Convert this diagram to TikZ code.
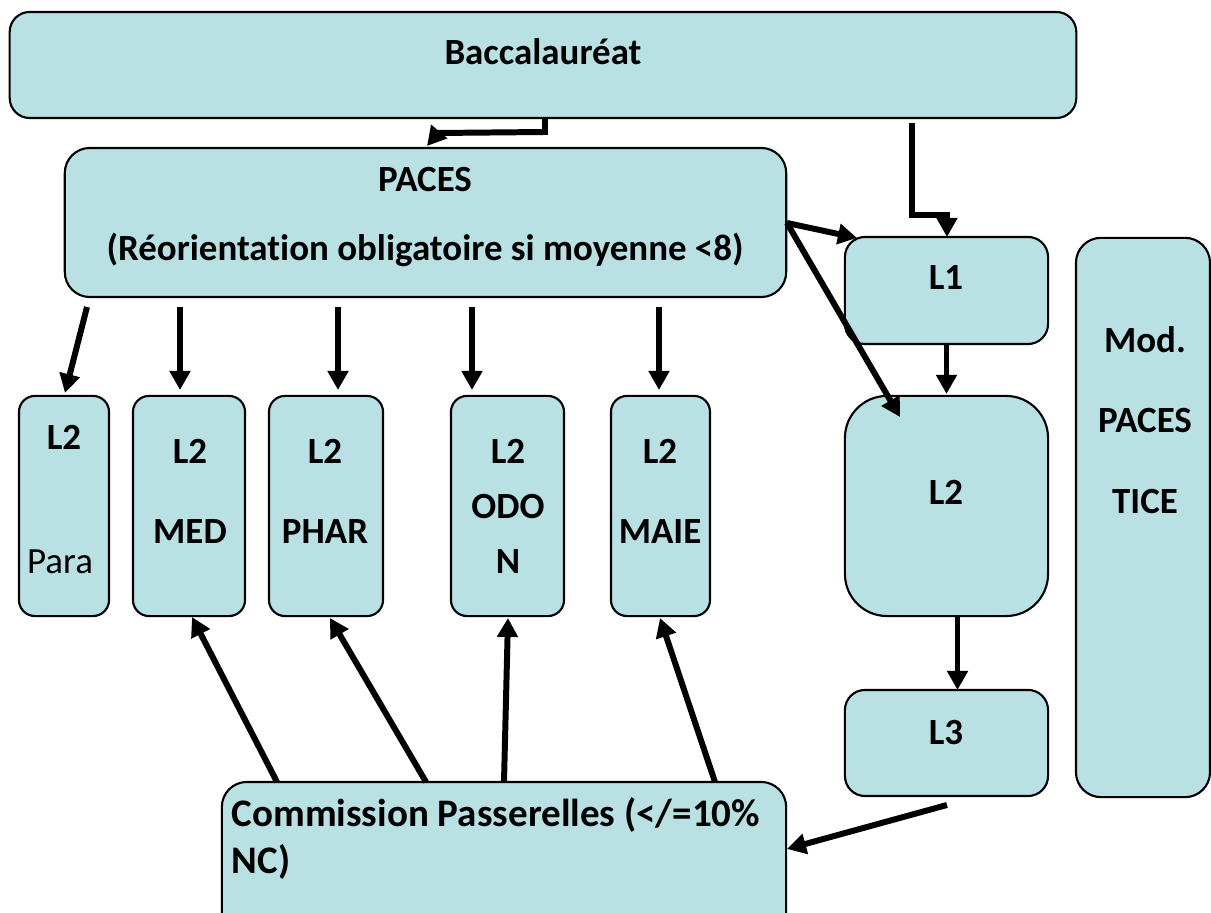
\documentclass[tikz,border=0pt]{standalone}
\usepackage{fontspec}
\setmainfont{Carlito}[Ligatures={NoCommon}]
\usetikzlibrary{arrows.meta}
\definecolor{boxfill}{RGB}{185,224,227}
\begin{document}
\begin{tikzpicture}[x=0.01cm,y=-0.01cm,
  box/.style={draw=black, line width=0.6pt, fill=boxfill, rounded corners=#1, inner sep=0pt, outer sep=0pt},
  box/.default=0.18cm,
  lbl/.style={font=\fontsize{10.5}{12}\selectfont\bfseries, inner sep=0pt},
  biglbl/.style={font=\fontsize{11.1}{13}\selectfont\bfseries, inner sep=0pt},
  plain/.style={font=\fontsize{10.5}{12}\selectfont, inner sep=0pt},
  arr/.style={line width=1.7pt, -{Triangle[length=0.19cm,width=0.2cm]}}]
\useasboundingbox (0,0) rectangle (1211,913);
\begin{scope}
\clip (0,0) rectangle (1211,913);
% boxes
\node[box=0.2cm, minimum width=10.66cm, minimum height=1.06cm] (bacc) at (543,65) {};
\node[box=0.25cm, minimum width=7.21cm, minimum height=1.49cm] (paces) at (425.5,222.5) {};
\node[box=0.2cm, minimum width=2.03cm, minimum height=1.07cm] (l1) at (946.5,290.5) {};
\node[box=0.42cm, minimum width=2.03cm, minimum height=2.20cm] (l2r) at (946.5,506) {};
\node[box=0.2cm, minimum width=2.03cm, minimum height=1.06cm] (l3) at (946.5,743) {};
\node[box=0.25cm, minimum width=1.34cm, minimum height=5.59cm] (mod) at (1143,517.5) {};
\node[box=0.16cm, minimum width=0.90cm, minimum height=2.20cm] (para) at (64,506) {};
\node[box=0.16cm, minimum width=1.12cm, minimum height=2.20cm] (med) at (189,506) {};
\node[box=0.16cm, minimum width=1.14cm, minimum height=2.20cm] (phar) at (326,506) {};
\node[box=0.16cm, minimum width=1.13cm, minimum height=2.20cm] (odon) at (507.5,506) {};
\node[box=0.16cm, minimum width=0.99cm, minimum height=2.20cm] (maie) at (660.5,506) {};
\node[box=0.25cm, minimum width=5.64cm, minimum height=1.58cm] (comm) at (504,861) {};
\end{scope}
% labels
\node[lbl] (tbacc) at (543,52) {Baccalauréat};
\node[lbl] (tpaces1) at (425,180) {PACES};
\node[lbl] (tpaces2) at (425,250) {(Réorientation obligatoire si moyenne <8)};
\node[lbl] (tl1) at (946,278) {L1};
\node[lbl] (tl2r) at (946,492) {L2};
\node[lbl] (tl3) at (946,733) {L3};
\node[lbl] (tmod1) at (1145,340) {Mod.};
\node[lbl] (tmod2) at (1145,421) {PACES};
\node[lbl] (tmod3) at (1145,502) {TICE};
\node[lbl] (tpara1) at (64,437) {L2};
\node[plain] (tpara2) at (60,562) {Para};
\node[lbl] (tmed1) at (190,451) {L2};
\node[lbl] (tmed2) at (190,532) {MED};
\node[lbl] (tphar1) at (325,451) {L2};
\node[lbl] (tphar2) at (325,532) {PHAR};
\node[lbl] (todon1) at (508,451) {L2};
\node[lbl] (todon2) at (508,507) {ODO};
\node[lbl] (todon3) at (508,562) {N};
\node[lbl] (tmaie1) at (660,451) {L2};
\node[lbl] (tmaie2) at (660,532) {MAIE};
\node[biglbl, anchor=west] (tcomm1) at (231,815) {Commission Passerelles (</=10\%};
\node[biglbl, anchor=west] (tcomm2) at (231,862) {NC)};
% connector coordinates
\coordinate (bp1) at (545,118);
\coordinate (bp2) at (545,132);
\coordinate (bp3) at (438,133);
\coordinate (bp4) at (427,146);
\coordinate (bl1) at (912,123);
\coordinate (bl2) at (912,215);
\coordinate (bl3) at (947,215);
\coordinate (pr) at (787,223);
\coordinate (l1in) at (857,238);
\coordinate (l2in) at (900,417);
\coordinate (ppara) at (87,307);
\coordinate (paraIn) at (65,393);
\coordinate (pmed) at (180,307);
\coordinate (medIn) at (180,390);
\coordinate (pphar) at (338,307);
\coordinate (pharIn) at (338,390);
\coordinate (podon) at (472,307);
\coordinate (odonIn) at (472,390);
\coordinate (pmaie) at (659,307);
\coordinate (maieIn) at (659,390);
\coordinate (l3out) at (947,805);
\coordinate (commIn) at (787,849);
\coordinate (cmed) at (277,782);
\coordinate (medB) at (192,617);
\coordinate (cphar) at (426,782);
\coordinate (pharB) at (330,618);
\coordinate (codon) at (504,782);
\coordinate (odonB) at (508,618);
\coordinate (cmaie) at (715,782);
\coordinate (maieB) at (660,618);
% connectors
\draw[arr, line join=miter] (bp1) -- (bp2) -- (bp3) -- (bp4);
\draw[arr, line join=miter] (bl1) -- (bl2) -- (bl3) -- (l1.north -| bl3);
\draw[arr] (pr) -- (l1in);
\draw[arr] (pr) -- (l2in);
\draw[arr] (ppara) -- (paraIn);
\draw[arr] (pmed) -- (medIn);
\draw[arr] (pphar) -- (pharIn);
\draw[arr] (podon) -- (odonIn);
\draw[arr] (pmaie) -- (maieIn);
\draw[arr] (l1.south) -- ([yshift=0.02cm]l2r.north);
\draw[arr] ([xshift=0.11cm]l2r.south) -- ([xshift=0.11cm]l3.north);
\draw[arr] (l3out) -- (commIn);
\draw[arr] (cmed) -- (medB);
\draw[arr] (cphar) -- (pharB);
\draw[arr] (codon) -- (odonB);
\draw[arr] (cmaie) -- (maieB);
\end{tikzpicture}
\end{document}
